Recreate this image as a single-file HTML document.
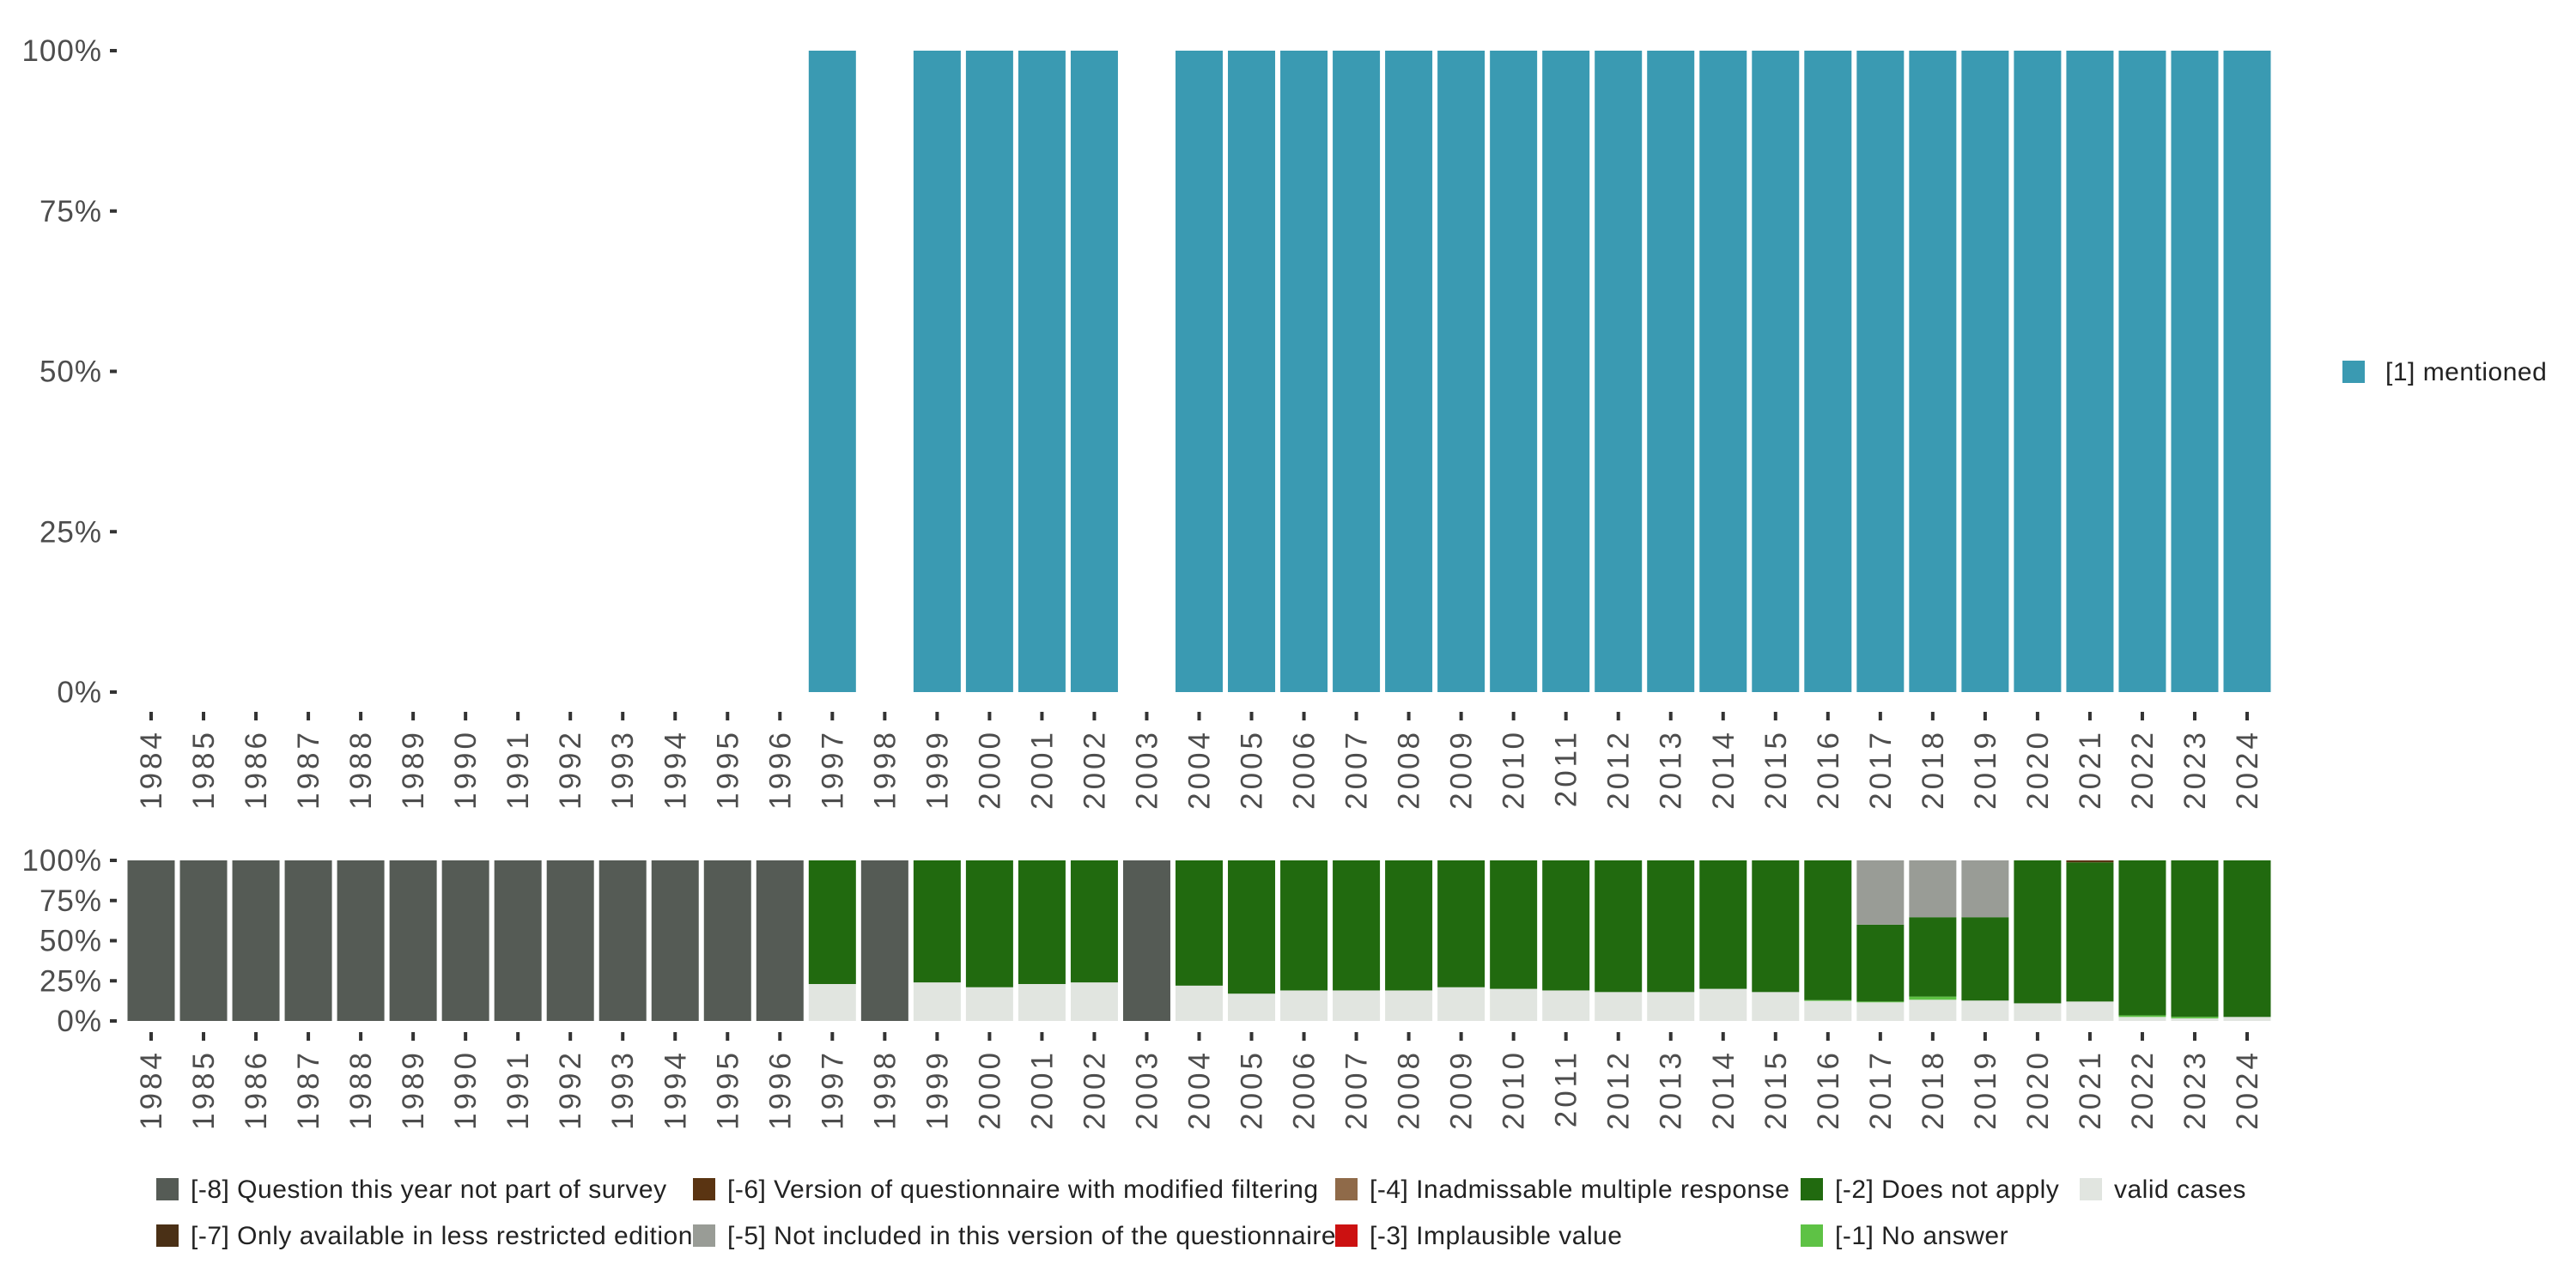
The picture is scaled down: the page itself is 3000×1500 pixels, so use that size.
<!DOCTYPE html>
<html><head><meta charset="utf-8"><style>
html,body{margin:0;padding:0;background:#fff;}
svg{display:block;font-family:"Liberation Sans",sans-serif;}
</style></head><body>
<svg id="chart" width="3000" height="1500" viewBox="0 0 3000 1500" xmlns="http://www.w3.org/2000/svg">
<g id="topPanel"></g>
<g id="bottomPanel"></g>
<g id="legend-top">
<rect x="2728" y="420" width="26" height="26" fill="#3a9ab2"/>
<text x="2778" y="443" font-size="30" letter-spacing="0.5" fill="#222">[1] mentioned</text>
</g>
<g id="legend-bottom"></g>
</svg>
<script>
const years = [];
for (let y = 1984; y <= 2024; y++) years.push(y);
const mentioned = [0,0,0,0,0,0,0,0,0,0,0,0,0,100,0,100,100,100,100,0,100,100,100,100,100,100,100,100,100,100,100,100,100,100,100,100,100,100,100,100,100];
const validCases = [0,0,0,0,0,0,0,0,0,0,0,0,0,23,0,24,21,23,24,0,22,17,19,19,19,21,20,19,18,18,20,18,12.5,11.6,13.2,12.7,11,12.1,2.5,1.6,2.5];
const noAnswer   = [0,0,0,0,0,0,0,0,0,0,0,0,0,0,0,0,0,0,0,0,0,0,0,0,0,0,0,0,0,0,0,0,0.5,0.5,2,0,0,0,1,1,0];
const notApply   = [0,0,0,0,0,0,0,0,0,0,0,0,0,77,0,76,79,77,76,0,78,83,81,81,81,79,80,81,82,82,80,82,87,47.9,49.4,51.9,89,86.7,96.5,97.4,97.5];
const implausible= [0,0,0,0,0,0,0,0,0,0,0,0,0,0,0,0,0,0,0,0,0,0,0,0,0,0,0,0,0,0,0,0,0,0,0,0,0,0,0,0,0];
const multiple   = [0,0,0,0,0,0,0,0,0,0,0,0,0,0,0,0,0,0,0,0,0,0,0,0,0,0,0,0,0,0,0,0,0,0,0,0,0,0,0,0,0];
const notIncluded= [0,0,0,0,0,0,0,0,0,0,0,0,0,0,0,0,0,0,0,0,0,0,0,0,0,0,0,0,0,0,0,0,0,40,35.4,35.4,0,0,0,0,0];
const modFilter  = [0,0,0,0,0,0,0,0,0,0,0,0,0,0,0,0,0,0,0,0,0,0,0,0,0,0,0,0,0,0,0,0,0,0,0,0,0,1.2,0,0,0];
const lessRestr  = [0,0,0,0,0,0,0,0,0,0,0,0,0,0,0,0,0,0,0,0,0,0,0,0,0,0,0,0,0,0,0,0,0,0,0,0,0,0,0,0,0];
const notSurvey  = [100,100,100,100,100,100,100,100,100,100,100,100,100,0,100,0,0,0,0,100,0,0,0,0,0,0,0,0,0,0,0,0,0,0,0,0,0,0,0,0,0];
const yTicks = [0,25,50,75,100];
const yTickLabels = ["0%","25%","50%","75%","100%"];

const NS = "http://www.w3.org/2000/svg";
function el(tag, attrs, parent){const e=document.createElementNS(NS,tag);for(const k in attrs)e.setAttribute(k,attrs[k]);parent.appendChild(e);return e;}
const x0 = 176, step = 61.025, bw = 55;
function xPos(i){return x0 + i*step;}

function panel(g, yTop, yBot, labelY, name){
  const ys = v => yBot - (yBot-yTop)*v/100;
  yTicks.forEach((t,i)=>{
    const tk=el('line',{x1:128,x2:136,y1:ys(t),y2:ys(t),stroke:'#333','stroke-width':4},g);
    
    
    const tx=el('text',{x:119,y:ys(t)+12,'font-size':35,'letter-spacing':1,fill:'#4d4d4d','text-anchor':'end'},g);
    tx.textContent=yTickLabels[i];
    
    
  });
  years.forEach((yr,i)=>{
    const tk=el('line',{x1:xPos(i),x2:xPos(i),y1:labelY-14,y2:labelY-4,stroke:'#333','stroke-width':4},g);
    
    
    const tx=el('text',{x:0,y:0,'font-size':35,'letter-spacing':4,fill:'#4d4d4d','text-anchor':'end',transform:`translate(${xPos(i)+12},${labelY+6}) rotate(-90)`},g);
    tx.textContent=yr;
    
    
  });
  return ys;
}

const topG=document.getElementById('topPanel');
const ysT = panel(topG, 59, 806, 843, 'top');
years.forEach((yr,i)=>{
  if(mentioned[i]<=0) return;
  const r=el('rect',{x:xPos(i)-bw/2,y:ysT(mentioned[i]),width:bw,height:ysT(0)-ysT(mentioned[i]),fill:'#3a9ab2'},topG);
  
  
});

const botG=document.getElementById('bottomPanel');
const ysB = panel(botG, 1002, 1189, 1216, 'bottom');
const series=[
  ['valid-cases',validCases,'#e1e5e0'],
  ['no-answer',noAnswer,'#5ec245'],
  ['does-not-apply',notApply,'#216a0f'],
  ['implausible-value',implausible,'#cc1111'],
  ['inadmissable-multiple',multiple,'#8f6a49'],
  ['not-included',notIncluded,'#999c96'],
  ['modified-filtering',modFilter,'#5a3412'],
  ['less-restricted',lessRestr,'#4a3016'],
  ['not-part-of-survey',notSurvey,'#555b55']
];
years.forEach((yr,i)=>{
  let cum=0;
  series.forEach(s=>{
    const v=s[1][i]; if(v<=0) return;
    const r=el('rect',{x:xPos(i)-bw/2,y:ysB(cum+v),width:bw,height:ysB(cum)-ysB(cum+v),fill:s[2]},botG);
    
    
    cum+=v;
  });
});

const lg=document.getElementById('legend-bottom');
const legendItems=[
  ['[-8] Question this year not part of survey','#555b55',182,1372],
  ['[-6] Version of questionnaire with modified filtering','#5a3412',807,1372],
  ['[-4] Inadmissable multiple response','#8f6a49',1555,1372],
  ['[-2] Does not apply','#216a0f',2097,1372],
  ['valid cases','#e1e5e0',2422,1372],
  ['[-7] Only available in less restricted edition','#4a3016',182,1426],
  ['[-5] Not included in this version of the questionnaire','#999c96',807,1426],
  ['[-3] Implausible value','#cc1111',1555,1426],
  ['[-1] No answer','#5ec245',2097,1426]
];
legendItems.forEach(it=>{
  const r=el('rect',{x:it[2],y:it[3],width:26,height:26,fill:it[1]},lg);
  
  
  const t=el('text',{x:it[2]+40,y:it[3]+23,'font-size':30,'letter-spacing':0.5,fill:'#222'},lg);
  t.textContent=it[0];
  
  
});
</script>
</body></html>
